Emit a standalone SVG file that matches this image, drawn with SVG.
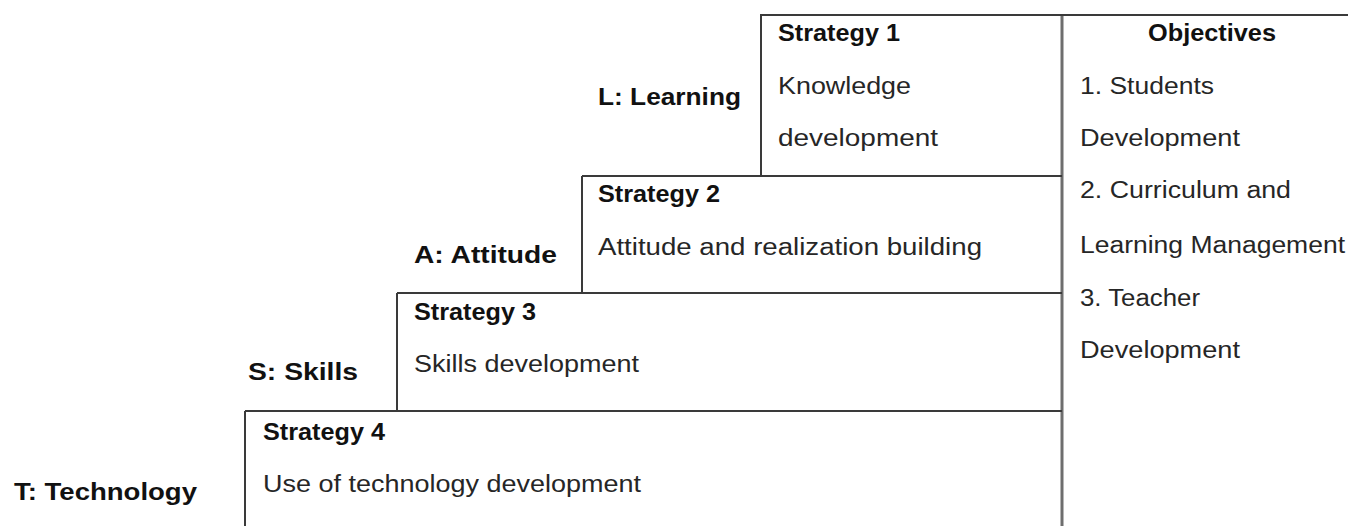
<svg xmlns="http://www.w3.org/2000/svg" width="1348" height="526" viewBox="0 0 1348 526">
<style>
text{font-family:"Liberation Sans",Arial,sans-serif;font-size:23px;fill:#262626}
.b{font-weight:bold;fill:#111}
.box{fill:none;stroke:#3a3a3a;stroke-width:2}
.sep{fill:none;stroke:#6e6e6e;stroke-width:3}
</style>
<rect width="1348" height="526" fill="#fff"/>
<g id="connectors">
<line class="sep" x1="1062" y1="15" x2="1062" y2="526"/>
<line class="box" x1="1062" y1="15" x2="1348" y2="15"/>
</g>
<g id="strategy1">
<polyline class="box" points="761,176 761,15 1062,15"/>
<line class="box" x1="582" y1="176" x2="1062" y2="176"/>
<text class="b" x="778" y="41" textLength="122" lengthAdjust="spacingAndGlyphs">Strategy 1</text>
<text x="778" y="94" textLength="133" lengthAdjust="spacingAndGlyphs">Knowledge</text>
<text x="778" y="146" textLength="160" lengthAdjust="spacingAndGlyphs">development</text>
</g>
<g id="label-l"><text class="b" x="598" y="105" textLength="143" lengthAdjust="spacingAndGlyphs">L: Learning</text></g>
<g id="strategy2">
<line class="box" x1="582" y1="176" x2="582" y2="293"/>
<line class="box" x1="397" y1="293" x2="1062" y2="293"/>
<text class="b" x="598" y="202" textLength="122" lengthAdjust="spacingAndGlyphs">Strategy 2</text>
<text x="598" y="255" textLength="384" lengthAdjust="spacingAndGlyphs">Attitude and realization building</text>
</g>
<g id="label-a"><text class="b" x="414" y="263" textLength="143" lengthAdjust="spacingAndGlyphs">A: Attitude</text></g>
<g id="strategy3">
<line class="box" x1="397" y1="293" x2="397" y2="411"/>
<line class="box" x1="245" y1="411" x2="1062" y2="411"/>
<text class="b" x="414" y="320" textLength="122" lengthAdjust="spacingAndGlyphs">Strategy 3</text>
<text x="414" y="372" textLength="225" lengthAdjust="spacingAndGlyphs">Skills development</text>
</g>
<g id="label-s"><text class="b" x="248" y="380" textLength="110" lengthAdjust="spacingAndGlyphs">S: Skills</text></g>
<g id="strategy4">
<line class="box" x1="245" y1="411" x2="245" y2="526"/>
<text class="b" x="263" y="440" textLength="122" lengthAdjust="spacingAndGlyphs">Strategy 4</text>
<text x="263" y="492" textLength="378" lengthAdjust="spacingAndGlyphs">Use of technology development</text>
</g>
<g id="label-t"><text class="b" x="14" y="500" textLength="183" lengthAdjust="spacingAndGlyphs">T: Technology</text></g>
<g id="objectives">
<text class="b" x="1148" y="41" textLength="128" lengthAdjust="spacingAndGlyphs">Objectives</text>
<text x="1080" y="94" textLength="134" lengthAdjust="spacingAndGlyphs">1. Students</text>
<text x="1080" y="146" textLength="160" lengthAdjust="spacingAndGlyphs">Development</text>
<text x="1080" y="198" textLength="211" lengthAdjust="spacingAndGlyphs">2. Curriculum and</text>
<text x="1080" y="253" textLength="265" lengthAdjust="spacingAndGlyphs">Learning Management</text>
<text x="1080" y="306" textLength="120" lengthAdjust="spacingAndGlyphs">3. Teacher</text>
<text x="1080" y="358" textLength="160" lengthAdjust="spacingAndGlyphs">Development</text>
</g>
</svg>
